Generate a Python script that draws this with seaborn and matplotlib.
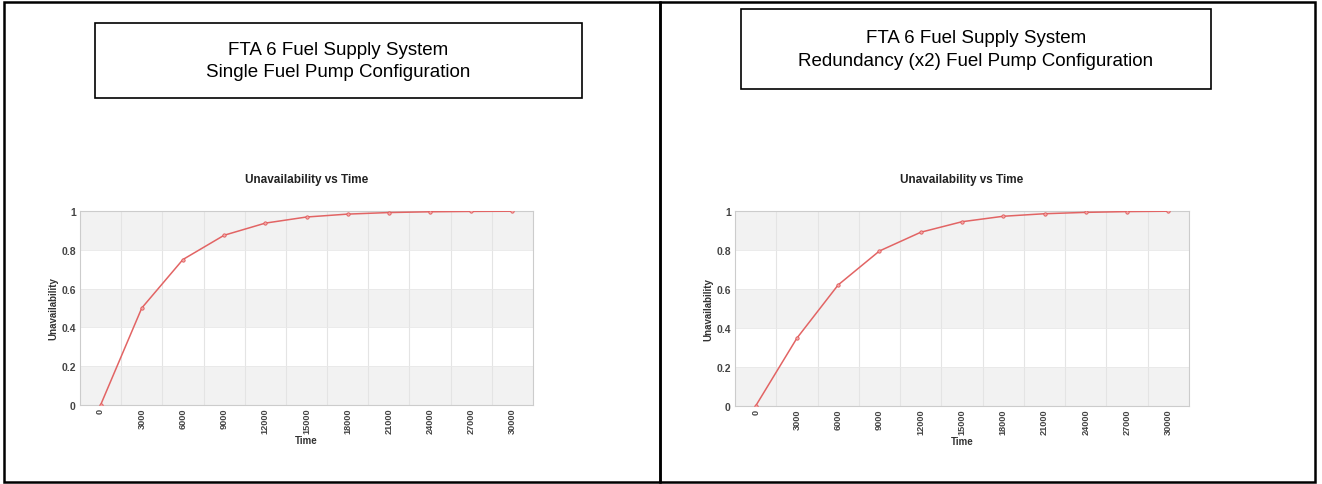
import numpy as np
import pandas as pd
import matplotlib
matplotlib.use('Agg')
import matplotlib.pyplot as plt
import seaborn as sns
from matplotlib.patches import Rectangle

# Data
time = [0, 3000, 6000, 9000, 12000, 15000, 18000, 21000, 24000, 27000, 30000]
single_pump = [0.0, 0.50, 0.75, 0.875, 0.9375, 0.969, 0.984, 0.992, 0.996, 0.998, 0.999]
redundant_pump = [0.0, 0.348, 0.621, 0.795, 0.891, 0.945, 0.973, 0.986, 0.993, 0.997, 0.999]
y_ticks = [0, 0.2, 0.4, 0.6, 0.8, 1]
y_tick_labels = ['0', '0.2', '0.4', '0.6', '0.8', '1']
box_titles = ['FTA 6 Fuel Supply System\nSingle Fuel Pump Configuration',
              'FTA 6 Fuel Supply System\nRedundancy (x2) Fuel Pump Configuration']

sns.set_style('white')
plt.rcParams['font.family'] = ['Liberation Sans', 'DejaVu Sans']

W, H = 1322, 485
fig = plt.figure(figsize=(W / 100, H / 100), dpi=100)


def px_rect(x0, y0, x1, y1):
    # pixel box (top-left origin) -> figure fraction rect
    return [x0 / W, 1 - y1 / H, (x1 - x0) / W, (y1 - y0) / H]


# Outer table frame
for x0, y0, x1, y1 in [(4, 3, 660, 483), (660, 3, 1315, 483)]:
    fig.patches.append(Rectangle((x0 / W, 1 - y1 / H), (x1 - x0) / W, (y1 - y0) / H,
                                 transform=fig.transFigure, fill=False,
                                 edgecolor='black', linewidth=1.8))

# Title boxes
boxes = [(95, 24, 582, 99), (741, 10, 1211, 90)]
for (x0, y0, x1, y1), txt in zip(boxes, box_titles):
    fig.patches.append(Rectangle((x0 / W, 1 - y1 / H), (x1 - x0) / W, (y1 - y0) / H,
                                 transform=fig.transFigure, fill=False,
                                 edgecolor='black', linewidth=1.2))
    fig.text((x0 + x1) / 2 / W, 1 - (y0 + y1) / 2 / H, txt, ha='center', va='center',
             fontsize=13.5, linespacing=1.45, color='black')

axes_px = [(80, 212, 533, 406), (735, 212, 1189, 407)]
series = [single_pump, redundant_pump]

for (x0, y0, x1, y1), vals in zip(axes_px, series):
    ax = fig.add_axes(px_rect(x0, y0, x1, y1))
    df = pd.DataFrame({'Time': time, 'Unavailability': vals})

    # alternating bands
    for lo in [0, 0.4, 0.8]:
        ax.axhspan(lo, lo + 0.2, color='#f2f2f2', zorder=0, lw=0)
    for gx in np.arange(1500, 30000, 3000):
        ax.axvline(gx, color='#e4e4e4', lw=0.8, zorder=1)
    for gy in [0.2, 0.4, 0.6, 0.8]:
        ax.axhline(gy, color='#e8e8e8', lw=0.6, zorder=1)

    sns.lineplot(data=df, x='Time', y='Unavailability', ax=ax, color='#e26464',
                 lw=1.1, marker='o', markersize=2.4, markerfacecolor='#f4a8a8',
                 markeredgecolor='#e05a5a', markeredgewidth=0.6, zorder=3)

    ax.set_xlim(-1500, 31500)
    ax.set_ylim(0, 1)
    ax.set_xticks(time)
    ax.set_xticklabels([str(t) for t in time], rotation=90, fontsize=6.6,
                       fontweight='bold', color='#444444')
    ax.set_yticks(y_ticks)
    ax.set_yticklabels(y_tick_labels, fontsize=7.5, fontweight='bold', color='#444444')
    ax.tick_params(axis='both', length=0, pad=3)
    ax.tick_params(axis='x', pad=2)
    ax.set_xlabel('Time', fontsize=7, fontweight='bold', color='#333333', labelpad=1)
    ax.set_ylabel('Unavailability', fontsize=7, fontweight='bold', color='#333333', labelpad=2)
    ax.set_title('Unavailability vs Time', fontsize=8.5, fontweight='bold',
                 color='#222222', pad=21)
    for s in ax.spines.values():
        s.set_color('#cccccc')
        s.set_linewidth(0.8)

fig.savefig('out.png', dpi=100, facecolor='white')
